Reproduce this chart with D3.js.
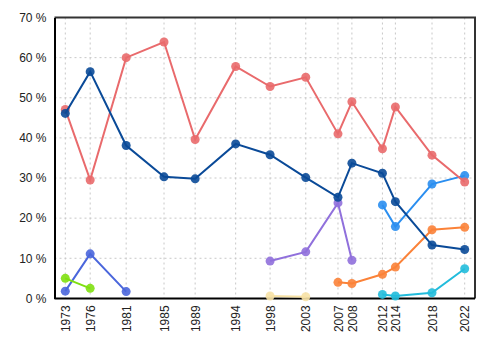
<!DOCTYPE html>
<html>
<head>
<meta charset="utf-8">
<script src="https://cdn.jsdelivr.net/npm/d3@7"></script>
<style>
  body { margin: 0; background: #fff; }
  svg { font-family: "Liberation Sans", Arial, sans-serif; }
</style>
</head>
<body>
<div id="chart"></div>
<script>
// election dates
const dates = ["1973-10-29", "1976-11-15", "1981-04-13", "1985-12-02", "1989-09-25",
    "1994-09-12", "1998-11-30", "2003-04-14", "2007-03-26", "2008-12-08",
    "2012-09-04", "2014-04-07", "2018-10-01", "2022-10-03"];

const yTicks = [0, 10, 20, 30, 40, 50, 60, 70];

// series values, each starts at some index of dates
const redVals = [47.1, 29.5, 60.0, 63.9, 39.6, 57.8, 52.8, 55.1, 41.0, 49.0, 37.3, 47.7, 35.7, 29.0];
const navyVals = [46.1, 56.5, 38.1, 30.3, 29.8, 38.5, 35.8, 30.1, 25.2, 33.7, 31.2, 24.1, 13.3, 12.2];
const skyVals = [23.3, 17.9, 28.5, 30.6];     // from 2012
const orangeVals = [4.0, 3.7, 6.0, 7.8, 17.1, 17.7]; // from 2007
const cyanVals = [1.0, 0.6, 1.4, 7.4];        // from 2012
const purpleVals = [9.3, 11.6, 23.8, 9.5];    // from 1998
const sandVals = [0.6, 0.4];                  // from 1998
const royalVals = [1.8, 11.1, 1.7];           // from 1973
const limeVals = [5.0, 2.5];                  // from 1973

const series = [
    {vals: royalVals, start: 0, color: "#4a66dc"},
    {vals: limeVals, start: 0, color: "#7fe010"},
    {vals: sandVals, start: 6, color: "#f7e2a6"},
    {vals: purpleVals, start: 6, color: "#9070dc"},
    {vals: cyanVals, start: 10, color: "#22bcdc"},
    {vals: orangeVals, start: 8, color: "#fb8238"},
    {vals: skyVals, start: 10, color: "#2a8ef0"},
    {vals: redVals, start: 0, color: "#e96a6c"},
    {vals: navyVals, start: 0, color: "#0a4a98"}
];

const parse = d3.timeParse("%Y-%m-%d");
const fmt = d3.timeFormat("%Y");

const width = 500, height = 350;
const box = {left: 54.5, right: 475, top: 17.5, bottom: 298.4};

const svg = d3.select("#chart").append("svg")
    .attr("width", width)
    .attr("height", height);

const x = d3.scaleTime()
    .domain([parse(dates[0]), parse(dates[dates.length - 1])])
    .range([65.3, 464.7]);

const y = d3.scaleLinear()
    .domain([0, 70])
    .range([box.bottom, box.top]);

// grid
svg.append("g").selectAll("line")
    .data(dates)
    .join("line")
    .attr("x1", d => x(parse(d)))
    .attr("x2", d => x(parse(d)))
    .attr("y1", box.top)
    .attr("y2", box.bottom)
    .attr("stroke", "#c8c8c8")
    .attr("stroke-dasharray", "2,3");

svg.append("g").selectAll("line")
    .data(yTicks.slice(1, -1))
    .join("line")
    .attr("x1", box.left)
    .attr("x2", box.right)
    .attr("y1", d => y(d))
    .attr("y2", d => y(d))
    .attr("stroke", "#c8c8c8")
    .attr("stroke-dasharray", "2,3");

// frame top / right
svg.append("path")
    .attr("d", `M${box.left},${box.top}H${box.right}V${box.bottom}`)
    .attr("fill", "none")
    .attr("stroke", "#333")
    .attr("stroke-width", 2);

// y axis
const yAxis = svg.append("g")
    .attr("transform", `translate(${box.left},0)`)
    .call(d3.axisLeft(y).tickValues(yTicks).tickSize(0).tickPadding(8).tickFormat(d => d + " %"));
yAxis.select(".domain").attr("stroke", "#000").attr("stroke-width", 2);
yAxis.selectAll("text").style("font-size", "12px").attr("fill", "#222");

// x axis
const xAxis = svg.append("g")
    .attr("transform", `translate(0,${box.bottom})`)
    .call(d3.axisBottom(x).tickValues(dates.map(parse)).tickSize(0).tickFormat(fmt));
xAxis.select(".domain").attr("d", `M${box.left},0H${box.right}`).attr("stroke", "#000").attr("stroke-width", 2);
xAxis.selectAll("text")
    .style("font-size", "12px")
    .attr("fill", "#222")
    .attr("text-anchor", "end")
    .attr("transform", "rotate(-90)")
    .attr("x", -7)
    .attr("y", 0)
    .attr("dy", "0.35em");

const line = d3.line()
    .x(d => x(d.date))
    .y(d => y(d.v));

series.forEach(s => {
    const pts = s.vals.map((v, i) => ({date: parse(dates[s.start + i]), v: v}));
    const g = svg.append("g");
    g.append("path")
        .datum(pts)
        .attr("fill", "none")
        .attr("stroke", s.color)
        .attr("stroke-width", 2)
        .attr("d", line);
    g.selectAll("circle")
        .data(pts)
        .join("circle")
        .attr("cx", d => x(d.date))
        .attr("cy", d => y(d.v))
        .attr("r", 4.5)
        .attr("fill", s.color)
        .attr("fill-opacity", 0.9);
});
</script>
</body>
</html>
